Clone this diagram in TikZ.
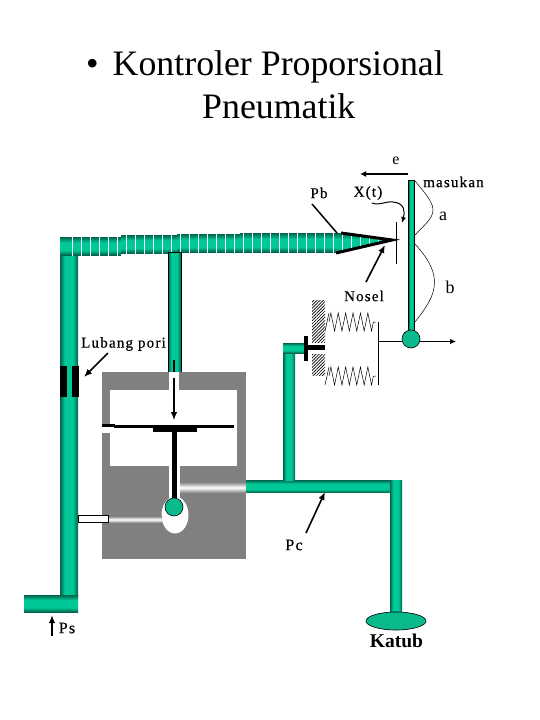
\documentclass[tikz,border=0pt]{standalone}
\usepackage{fontspec}
\setmainfont{Liberation Serif}
\newfontfamily\wideserif[LetterSpace=8,FakeBold=0.5]{Liberation Serif}
\usepackage{tikz}
\usetikzlibrary{decorations.pathmorphing,patterns.meta,shapes.geometric,arrows.meta}
\definecolor{pipelight}{RGB}{0,200,150}
\definecolor{pipedark}{RGB}{0,100,78}
\definecolor{pipefill}{RGB}{10,185,140}
\definecolor{blockgray}{RGB}{128,128,128}
\pgfdeclarehorizontalshading{pipeacross}{100bp}{color(0bp)=(pipedark); color(25bp)=(pipedark); color(38bp)=(pipelight); color(60bp)=(pipelight); color(75bp)=(pipedark); color(100bp)=(pipedark)}
\pgfdeclareverticalshading{pipedown}{100bp}{color(0bp)=(pipedark); color(25bp)=(pipedark); color(38bp)=(pipelight); color(60bp)=(pipelight); color(75bp)=(pipedark); color(100bp)=(pipedark)}
\tikzset{
  pipeh/.style={shading=pipedown,draw=none},
  pipev/.style={shading=pipeacross,draw=none},
  bore/.style={top color=blockgray,bottom color=blockgray,middle color=white,draw=none},
  pointer/.style={-{Latex[length=8pt,width=6.5pt]},line width=1.6pt},
  smalltext/.style={font=\fontsize{15}{15}\wideserif,inner sep=0pt},
  thinline/.style={line width=0.5pt}
}
\begin{document}
\begin{tikzpicture}[x=1pt,y=-1pt]
\useasboundingbox (0,0) rectangle (540,720);
%title
\node[anchor=base west,inner sep=0pt,font=\fontsize{35.8}{44}\selectfont] (title1) at (86,75) {\textbullet\hspace{14pt}Kontroler Proporsional};
\node[anchor=base west,inner sep=0pt,font=\fontsize{35.8}{44}\selectfont] (title2) at (202,118) {Pneumatik};

%supply pipes
\shade[pipev] (60,250) rectangle (78,597);
\shade[pipeh] (24,595) rectangle (78,612);
\shade[pipeh] (60,237) rectangle (121,255);
\shade[pipeh] (121,235) rectangle (177,253);
\shade[pipeh] (177,234) rectangle (240,252);
\shade[pipeh] (240,233) rectangle (340,252);
\shade[pipeh] (336,233) -- (392,239) -- (396,240) -- (392,241) -- (336,253) -- cycle;
\foreach \x in {72,81,...,378}
  \draw[white,line width=0.7pt] (\x,232) -- (\x,256);
\fill[white] (340,222) -- (392,238) -- (340,232) -- cycle;
\fill[white] (340,262) -- (392,242) -- (340,254) -- cycle;
\fill[white] (380,225) rectangle (394,237);
\fill[white] (380,243) rectangle (394,256);
\shade[pipev,draw=black,line width=0.7pt] (168,252) rectangle (181,372);

%nozzle
\coordinate (nozzletip) at (392,240);
\coordinate (nozzleup) at (341,233);
\coordinate (nozzledown) at (336,253);
\draw[line width=3pt] (nozzleup) -- (nozzletip) -- (nozzledown);
\coordinate (flaptop) at (396.5,222);
\coordinate (flapbot) at (396.5,264);
\draw[thinline] (flaptop) -- (flapbot);

%relay block
\fill[blockgray] (102,372) rectangle (246,559);
\fill[white] (110,390) rectangle (237,466);
\fill[white] (169,372) rectangle (179,390);
\fill[white] (169,466) rectangle (180,500);
\fill[white] (102,425) rectangle (110,433);
\fill[white] (175,515) ellipse (13.5 and 18.5);
\shade[bore] (180,482) rectangle (246,493);
\shade[bore] (108,516) rectangle (162,523);
\draw[black,fill=white,line width=0.7pt] (78,515.5) rectangle (108.5,522);
\fill (102,424) rectangle (115,426.5);
\fill (114,425) rectangle (234,428);
\fill (153,425) rectangle (197,432);
\fill (172,432) rectangle (176.5,498);
\node[circle,draw=black,fill=pipefill,line width=0.6pt,minimum size=18pt,inner sep=0pt] (ball) at (174,507) {};

%pores
\fill (60,366) rectangle (67,397);
\fill (72,366) rectangle (79,397);

%output pipes
\shade[pipeh] (246,480) rectangle (390,492.5);
\shade[pipev] (283,343) rectangle (295,480);
\shade[pipeh] (283,343) rectangle (305,353);
\shade[pipev] (390,480) rectangle (402,612);
\node[ellipse,draw=black,fill=pipefill,line width=0.6pt,minimum width=60pt,minimum height=18pt,inner sep=0pt] (valve) at (396,621) {};

%bellows
\fill[pattern={Lines[angle=45,distance=2.2pt,line width=0.7pt]}] (312,300) rectangle (325,342);
\fill[pattern={Lines[angle=45,distance=2.2pt,line width=0.7pt]}] (312,354) rectangle (325,375);
\fill (304,336) rectangle (308,361);
\fill (308,345) rectangle (325,350);
\draw[thinline] (325,331) -- (329,313);
\draw[thinline,decorate,decoration={zigzag,segment length=7.4pt,amplitude=9pt}] (329,322) -- (376,322);
\draw[thinline] (325,385) -- (329,367);
\draw[thinline,decorate,decoration={zigzag,segment length=7.4pt,amplitude=9pt}] (329,376) -- (376,376);
\coordinate (platetop) at (378.5,322);
\coordinate (platebot) at (378.5,385);
\coordinate (platemid) at (378.5,341.5);
\draw[thinline] (platetop) -- (platebot);

%lever
\shade[pipev,draw=black,line width=0.5pt] (408.5,180) rectangle (414.5,331);
\node[circle,draw=black,fill=pipefill,line width=0.6pt,minimum size=18pt,inner sep=0pt] (pivot) at (411,339) {};
\coordinate (outend) at (456,341.5);
\draw[thinline] (platemid) -- (pivot.west |- platemid);
\draw[-{Latex[length=6pt,width=5.5pt]},line width=1pt] (pivot.east |- outend) -- (outend);

%brace curves
\draw[thinline] (415,181) .. controls (425,193) and (433,202) .. (433,210) .. controls (433,219) and (423,226) .. (415,235);
\draw[thinline] (415,244) .. controls (425,255) and (434.5,268) .. (434.5,282) .. controls (434.5,297) and (425,309) .. (415,322);

%labels
\node[inner sep=0pt,font=\fontsize{16}{16}\selectfont] (e) at (396,161) {e};
\node[smalltext] (masukan) at (453.5,182) {masukan};
\node[inner sep=0pt,font=\fontsize{18}{18}\selectfont] (a) at (443,216) {a};
\node[inner sep=0pt,font=\fontsize{18}{18}\selectfont] (b) at (450,287) {b};
\node[smalltext] (pb) at (319,193) {Pb};
\node[smalltext] (xt) at (368,193) {X(t)};
\node[smalltext] (nosel) at (364,296) {Nosel};
\node[smalltext] (pori) at (123.5,344) {Lubang pori};
\node[inner sep=0pt,font=\fontsize{16}{16}\wideserif] (pc) at (294,545) {Pc};
\node[inner sep=0pt,font=\fontsize{16}{16}\wideserif] (ps) at (67,628) {Ps};
\node[inner sep=0pt,font=\fontsize{19.5}{20}\bfseries] (katub) at (396.5,641) {Katub};

%pointers
\coordinate (eright) at (408,174);
\coordinate (eleft) at (360,174);
\draw[-{Latex[length=6pt,width=6pt]},line width=1.2pt] (eright) -- (eleft);
\coordinate (pbstart) at (312,204);
\coordinate (pbend) at (337,233);
\draw[line width=1.5pt] (pbstart) -- (pbend);
\coordinate (noselstart) at (366,282);
\coordinate (noselend) at (385,245);
\draw[pointer] (noselstart) -- (noselend);
\coordinate (xtstart) at (372,203);
\coordinate (xtend) at (402,223);
\draw[-{Latex[length=6pt,width=5pt]},line width=1pt] (xtstart) .. controls (380,206) and (385,201) .. (393,202) .. controls (405,203) and (405,212) .. (xtend);
\coordinate (poristart) at (108,353);
\coordinate (poriend) at (84,377);
\draw[pointer] (poristart) -- (poriend);
\coordinate (pcstart) at (306,533);
\coordinate (pcend) at (325,492);
\draw[pointer] (pcstart) -- (pcend);
\coordinate (psstart) at (52,636);
\coordinate (psend) at (52,615);
\draw[pointer] (psstart) -- (psend);
\coordinate (feedtop) at (174,360);
\coordinate (feedmid) at (174,372);
\coordinate (feedlow) at (174,378);
\coordinate (feedend) at (174,420);
\draw[line width=1.2pt] (feedtop) -- (feedmid);
\draw[-{Latex[length=8pt,width=6.5pt]},line width=1.2pt] (feedlow) -- (feedend);
\end{tikzpicture}
\end{document}
